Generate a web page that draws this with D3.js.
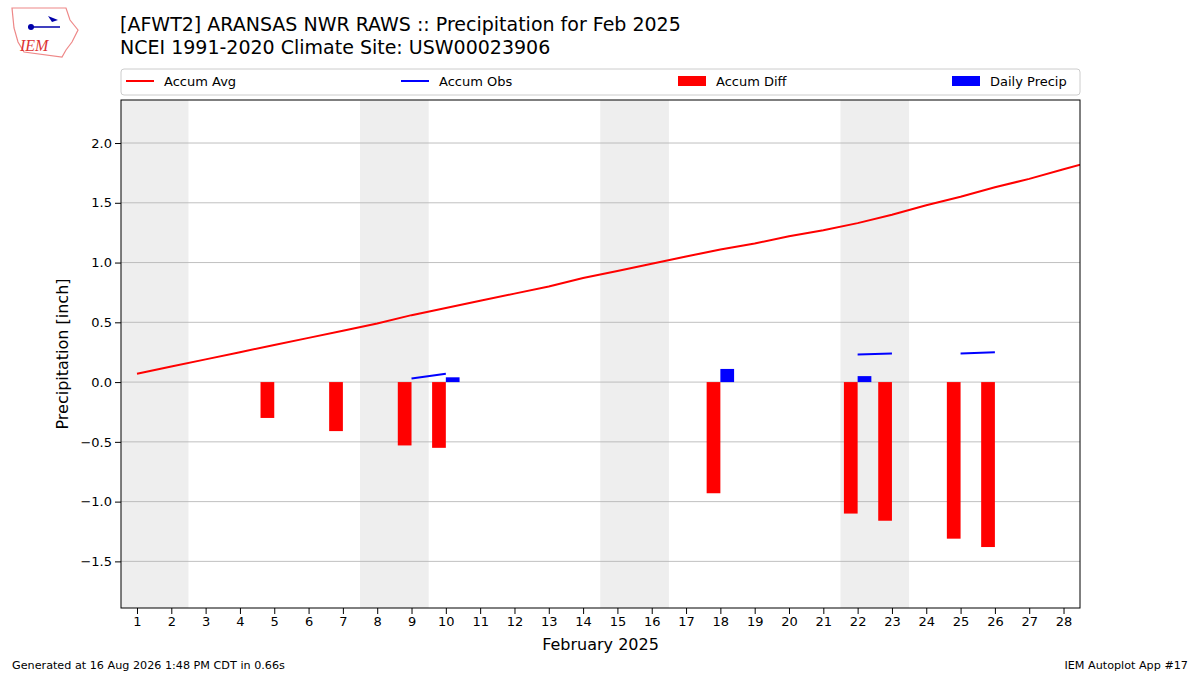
<!DOCTYPE html>
<html><head><meta charset="utf-8">
<script src="https://cdn.jsdelivr.net/npm/d3@7"></script>
<style>body{margin:0;background:#fff;font-family:"DejaVu Sans",sans-serif}</style>
</head><body><svg id="c" width="1200" height="675"></svg>
<script>
const days = d3.range(1, 29);
const accumAvg = [0.07,0.13,0.19,0.25,0.31,0.37,0.43,0.49,0.56,0.62,0.68,0.74,0.80,0.87,0.93,0.99,1.05,1.11,1.16,1.22,1.27,1.33,1.40,1.48,1.55,1.63,1.70,1.78,1.86];
const obsDays = [5,7,9,10,18,22,23,25,26];
const accumObs = [0.01,0.02,0.03,0.07,0.18,0.23,0.24,0.24,0.25];
const accumDiff = [-0.30,-0.41,-0.53,-0.55,-0.93,-1.10,-1.16,-1.31,-1.38];
const dailyPrecip = [0,0,0,0.04,0.11,0.05,0,0,0];
const weekends = [[0.5,2.5],[7.5,9.5],[14.5,16.5],[21.5,23.5]];
const yTicks = [-1.5,-1.0,-0.5,0.0,0.5,1.0,1.5,2.0];

const svg = d3.select("#c");
const L=121,R=1080,T=100,B=608;
const x = d3.scaleLinear().domain([0.534,28.48]).range([L,R]);
const y = d3.scaleLinear().domain([-1.89,2.36]).range([B,T]);
const plot = svg.append("g");
svg.append("defs").append("clipPath").attr("id","cp").append("rect").attr("x",L).attr("y",T).attr("width",R-L).attr("height",B-T);
const g = plot.append("g").attr("clip-path","url(#cp)");
g.selectAll(".we").data(weekends).join("rect").attr("x",d=>x(d[0])).attr("width",d=>x(d[1])-x(d[0])).attr("y",T).attr("height",B-T).attr("fill","#eeeeee");
g.selectAll(".gl").data(yTicks).join("line").attr("x1",L).attr("x2",R).attr("y1",d=>y(d)).attr("y2",d=>y(d)).attr("stroke","#b0b0b0").attr("stroke-width",0.8);
g.selectAll(".db").data(obsDays).join("rect").attr("x",d=>x(d-0.4)).attr("width",d=>x(d)-x(d-0.4))
 .attr("y",(d,i)=>y(Math.max(0,accumDiff[i]))).attr("height",(d,i)=>Math.abs(y(accumDiff[i])-y(0))).attr("fill","#ff0000");
g.selectAll(".pb").data(obsDays).join("rect").attr("x",d=>x(d)).attr("width",d=>x(d+0.4)-x(d))
 .attr("y",(d,i)=>y(dailyPrecip[i])).attr("height",(d,i)=>y(0)-y(dailyPrecip[i])).attr("fill","#0000ff")
 .attr("stroke",(d,i)=>dailyPrecip[i]===0?"#000":"none").attr("stroke-width",0.8);
g.append("path").datum(accumAvg).attr("fill","none").attr("stroke","#ff0000").attr("stroke-width",2)
 .attr("d",d3.line().x((d,i)=>x(i+1)).y(d=>y(d)));
const pts = obsDays.map((d,i)=>({d,v:accumObs[i]}));
const segs=[];
for(let i=1;i<pts.length;i++) if(pts[i].d-pts[i-1].d===1) segs.push([pts[i-1],pts[i]]);
g.selectAll(".os").data(segs).join("line").attr("x1",s=>x(s[0].d)).attr("x2",s=>x(s[1].d)).attr("y1",s=>y(s[0].v)).attr("y2",s=>y(s[1].v)).attr("stroke","#0000ff").attr("stroke-width",2);
plot.append("rect").attr("x",L).attr("y",T).attr("width",R-L).attr("height",B-T).attr("fill","none").attr("stroke","#000").attr("stroke-width",1);
const xa = svg.append("g").attr("transform",`translate(0,${B})`).call(d3.axisBottom(x).tickValues(days).tickFormat(d3.format("d")).tickSizeOuter(0));
const ya = svg.append("g").attr("transform",`translate(${L},0)`).call(d3.axisLeft(y).tickValues(yTicks).tickFormat(d=>d3.format(".1f")(d).replace("-","\u2212")).tickSizeOuter(0));
[xa,ya].forEach(a=>{a.select(".domain").remove();a.selectAll("text").attr("font-size",13).attr("font-family","DejaVu Sans").attr("fill","#000");a.selectAll("line").attr("stroke","#000")});
svg.append("text").attr("x",(L+R)/2).attr("y",650).attr("text-anchor","middle").attr("font-size",16).text("February 2025");
svg.append("text").attr("transform",`translate(68,${(T+B)/2}) rotate(-90)`).attr("text-anchor","middle").attr("font-size",16).text("Precipitation [inch]");
svg.append("text").attr("x",120).attr("y",31).attr("font-size",19).text("[AFWT2] ARANSAS NWR RAWS :: Precipitation for Feb 2025");
svg.append("text").attr("x",120).attr("y",54).attr("font-size",19).text("NCEI 1991-2020 Climate Site: USW00023906");
const lg = svg.append("g");
lg.append("rect").attr("x",L).attr("y",69).attr("width",R-L).attr("height",26).attr("fill","#fff").attr("stroke","#ccc").attr("rx",3);
const items=[{t:"Accum Avg",c:"#ff0000",k:"l",x:126},{t:"Accum Obs",c:"#0000ff",k:"l",x:401},{t:"Accum Diff",c:"#ff0000",k:"r",x:678},{t:"Daily Precip",c:"#0000ff",k:"r",x:952}];
items.forEach(it=>{
 if(it.k==="l") lg.append("line").attr("x1",it.x).attr("x2",it.x+28).attr("y1",81).attr("y2",81).attr("stroke",it.c).attr("stroke-width",2);
 else lg.append("rect").attr("x",it.x).attr("y",76).attr("width",28).attr("height",10).attr("fill",it.c);
 lg.append("text").attr("x",it.x+38).attr("y",86).attr("font-size",13).text(it.t);
});
svg.append("text").attr("x",12).attr("y",669).attr("font-size",11.2).text("Generated at 16 Aug 2026 1:48 PM CDT in 0.66s");
svg.append("text").attr("x",1188).attr("y",669).attr("font-size",11.2).attr("text-anchor","end").text("IEM Autoplot App #17");
const lo=svg.append("g");
lo.append("path").attr("d","M12,8 L66,8 L70,20 L78,30 L72,42 L66,50 L62,57 L24,52 L18,42 L14,28 Z").attr("fill","none").attr("stroke","#e88").attr("stroke-width",1.2);
lo.append("text").attr("x",20).attr("y",51).attr("font-size",16).attr("font-style","italic").attr("font-family","Liberation Serif").attr("fill","#d33").text("IEM");
lo.append("line").attr("x1",28).attr("x2",60).attr("y1",27).attr("y2",27).attr("stroke","#00a").attr("stroke-width",1.5);
lo.append("circle").attr("cx",31).attr("cy",27).attr("r",3).attr("fill","#00a");
lo.append("path").attr("d","M48,16 L58,20 L52,22 Z").attr("fill","#00a");
</script></body></html>
